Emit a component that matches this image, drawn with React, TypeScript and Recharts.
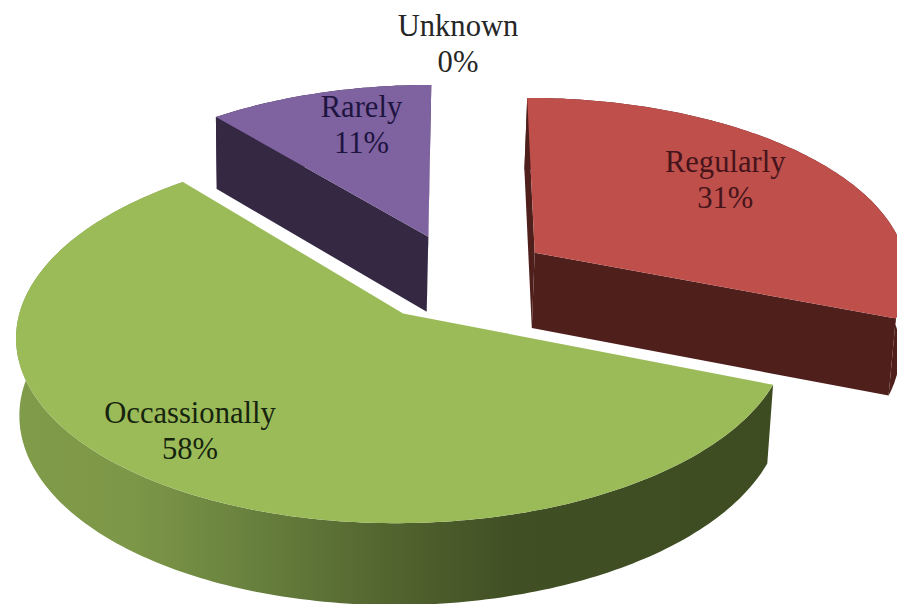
import React from "react";
import { PieChart, Pie, Cell } from "recharts";

const categories = ["Regularly", "Occasionally", "Rarely", "Unknown"];
const labelNames = ["Regularly", "Occassionally", "Rarely", "Unknown"];
const shares = [31, 58, 11, 0];
const topColors = ["#BE4F4B", "#9BBB59", "#7F62A0", "#4BACC6"];
const wallColors = ["#4F1F1C", "url(#greenWall)", "#342842", "#205867"];
const labelColors = ["#45141A", "#16240E", "#1E1440", "#262626"];

// Label anchor: fraction of the radius along the slice's mid-angle, then a screen nudge.
const labelRadius = [0.62, 0.72, 0.72, 1.25];
const labelNudge = [
  [11, -14],
  [-35, 3],
  [14, -4],
  [-1, -5],
];

const rows = categories.map((name, i) => ({ name, value: shares[i], index: i }));

const WIDTH = 897;
const HEIGHT = 604;
const CENTER_X = 459;
const CENTER_Y = 277;
const RADIUS = 375;
const EXPLODE = 93;
const TILT = 0.473;
const PERSPECTIVE = 0.0003;
const THICKNESS = 76;
const BASE_SHRINK = 0.988;
const BASE_SHIFT = -2;

const rad = (deg: number) => (deg * Math.PI) / 180;

// Ground-plane coordinates are relative to the pie centre, Y growing toward the viewer.
function project(cx: number, cy: number, X: number, Y: number, base = false) {
  const s = 1 / (1 - PERSPECTIVE * Y);
  const f = base ? BASE_SHRINK : 1;
  return {
    x: cx + X * s * f + (base ? BASE_SHIFT : 0),
    y: cy + TILT * Y * s * f + (base ? THICKNESS * Math.pow(s, 0.75) : 0),
  };
}

function ground(angle: number, r: number, ox: number, oy: number) {
  return { X: ox + r * Math.cos(rad(angle)), Y: oy - r * Math.sin(rad(angle)) };
}

const toPath = (pts: { x: number; y: number }[]) =>
  pts.map((p, i) => `${i ? "L" : "M"}${p.x.toFixed(1)} ${p.y.toFixed(1)}`).join(" ") + " Z";

function SliceShape(props: any) {
  const { cx, cy, outerRadius, startAngle, endAngle, index } = props;
  if (Math.abs(startAngle - endAngle) < 0.01) return <g />;
  const mid = (startAngle + endAngle) / 2;
  const ox = EXPLODE * Math.cos(rad(mid));
  const oy = -EXPLODE * Math.sin(rad(mid));

  const steps = Math.max(2, Math.ceil(Math.abs(startAngle - endAngle)));
  const rim: { X: number; Y: number }[] = [];
  for (let i = 0; i <= steps; i++) {
    rim.push(ground(startAngle + ((endAngle - startAngle) * i) / steps, outerRadius, ox, oy));
  }
  const top = (g: { X: number; Y: number }) => project(cx, cy, g.X, g.Y);
  const bottom = (g: { X: number; Y: number }) => project(cx, cy, g.X, g.Y, true);
  const apex = { X: ox, Y: oy };

  // A cut face shows only when its outward normal points at the viewer.
  const camera = { X: -ox, Y: 1 / PERSPECTIVE - oy };
  const faceVisible = (angle: number, sign: number) => {
    const th = rad(90 - angle);
    return sign * (Math.cos(th) * camera.X + Math.sin(th) * camera.Y) > 0;
  };
  const face = (g: { X: number; Y: number }) =>
    toPath([top(apex), top(g), bottom(g), bottom(apex)]);

  const wallFill = wallColors[index];
  return (
    <g>
      <path d={toPath([...rim.map(top), ...rim.map(bottom).reverse()])} fill={wallFill} />
      {faceVisible(startAngle, -1) && <path d={face(rim[0])} fill={wallFill} />}
      {faceVisible(endAngle, 1) && <path d={face(rim[rim.length - 1])} fill={wallFill} />}
      <path d={toPath([top(apex), ...rim.map(top)])} fill={topColors[index]} />
    </g>
  );
}

function SliceLabel(props: any) {
  const { cx, cy, midAngle, outerRadius, index, value } = props;
  const ox = EXPLODE * Math.cos(rad(midAngle));
  const oy = -EXPLODE * Math.sin(rad(midAngle));
  const g = ground(midAngle, outerRadius * labelRadius[index], ox, oy);
  const p = project(cx, cy, g.X, g.Y);
  const x = p.x + labelNudge[index][0];
  const y = p.y + labelNudge[index][1];
  return (
    <text
      x={x}
      y={y}
      textAnchor="middle"
      fontFamily="'Liberation Serif', serif"
      fontSize={30.6}
      fill={labelColors[index]}
    >
      <tspan x={x} dy={-9}>{labelNames[index]}</tspan>
      <tspan x={x} dy={36}>{`${value}%`}</tspan>
    </text>
  );
}

export default function App() {
  return (
    <div style={{ position: "absolute", left: 0, top: 0, width: WIDTH, height: HEIGHT, background: "#fff", overflow: "hidden" }}>
      <PieChart width={WIDTH} height={HEIGHT} margin={{ top: 0, right: 0, bottom: 0, left: 0 }}>
        <defs>
          <linearGradient id="greenWall" gradientUnits="userSpaceOnUse" x1={17} y1={0} x2={775} y2={0}>
            <stop offset="0" stopColor="#809B49" />
            <stop offset="0.15" stopColor="#7D9748" />
            <stop offset="0.32" stopColor="#677F3D" />
            <stop offset="0.5" stopColor="#51632E" />
            <stop offset="0.66" stopColor="#404F24" />
            <stop offset="1" stopColor="#3E4C22" />
          </linearGradient>
        </defs>
        <Pie
          data={rows}
          dataKey="value"
          nameKey="name"
          cx={CENTER_X}
          cy={CENTER_Y}
          innerRadius={0}
          outerRadius={RADIUS}
          startAngle={90}
          endAngle={-270}
          paddingAngle={0}
          stroke="none"
          isAnimationActive={false}
          shape={SliceShape}
          label={SliceLabel}
          labelLine={false}
        >
          {rows.map((r, i) => (
            <Cell key={r.name} fill={topColors[i]} />
          ))}
        </Pie>
      </PieChart>
    </div>
  );
}
